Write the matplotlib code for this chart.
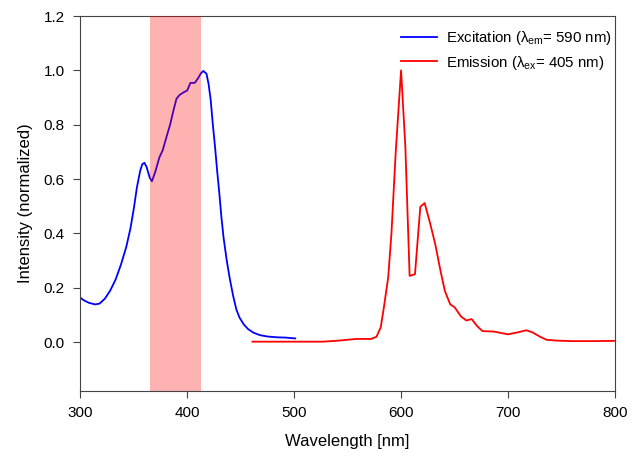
import matplotlib
matplotlib.use('Agg')
import matplotlib.pyplot as plt

plt.rcParams['font.family'] = ['Liberation Sans', 'DejaVu Sans']
plt.rcParams['mathtext.default'] = 'regular'

# excitation spectrum (lambda_em = 590 nm)
ex_wl  = [300, 303, 308, 314, 318, 323, 328, 333, 338, 343, 347, 350, 353, 356, 358,
          360, 362, 365, 367, 370, 374, 377, 381, 384, 387, 390, 393, 397, 400, 403,
          407, 410, 413, 415, 418, 420, 422, 424, 426, 428, 430, 432, 434, 437, 440,
          443, 446, 449, 453, 457, 462, 468, 475, 484, 492, 501]
ex_int = [0.164, 0.155, 0.145, 0.139, 0.142, 0.16, 0.19, 0.23, 0.285, 0.35, 0.42,
          0.49, 0.57, 0.63, 0.655, 0.66, 0.645, 0.605, 0.592, 0.625, 0.68, 0.705,
          0.76, 0.80, 0.85, 0.896, 0.91, 0.92, 0.926, 0.954, 0.954, 0.97, 0.99, 0.998,
          0.988, 0.95, 0.89, 0.80, 0.72, 0.631, 0.55, 0.46, 0.385, 0.30, 0.23, 0.17,
          0.12, 0.09, 0.065, 0.048, 0.035, 0.026, 0.021, 0.018, 0.017, 0.014]

# emission spectrum (lambda_ex = 405 nm)
em_wl  = [461, 480, 500, 527, 542, 558, 572, 577, 581, 584, 588, 591, 595, 600, 604,
          608, 613, 618, 622, 627, 632, 637, 641, 646, 650, 656, 661, 666, 671, 676,
          687, 700, 710, 717, 723, 730, 736, 745, 760, 780, 800]
em_int = [0.002, 0.002, 0.002, 0.002, 0.006, 0.012, 0.012, 0.02, 0.055, 0.13, 0.24,
          0.40, 0.70, 1.0, 0.72, 0.244, 0.25, 0.498, 0.512, 0.44, 0.36, 0.26, 0.188,
          0.139, 0.129, 0.095, 0.08, 0.085, 0.06, 0.041, 0.039, 0.029, 0.037, 0.044,
          0.036, 0.02, 0.009, 0.006, 0.004, 0.004, 0.005]

band = (365, 413)

fig = plt.figure(figsize=(6.32, 4.58), dpi=100)
ax = fig.add_axes([0.127, 0.146, 0.846, 0.819])

ax.plot(ex_wl, ex_int, color='#0000ff', lw=1.3,
        label=r'Excitation ($\lambda_{em}$= 590 nm)')
ax.plot(em_wl, em_int, color='#ff0000', lw=1.3,
        label=r'Emission ($\lambda_{ex}$= 405 nm)')
ax.axvspan(*band, color='red', alpha=0.3, lw=0, zorder=3)

ax.set_xlim(300, 800)
ax.set_ylim(-0.18, 1.2)
ax.set_xticks([300, 400, 500, 600, 700, 800])
ax.set_yticks([0.0, 0.2, 0.4, 0.6, 0.8, 1.0, 1.2])
ax.yaxis.set_major_formatter(plt.FormatStrFormatter('%.1f'))
ax.tick_params(direction='out', length=5, labelsize=11, pad=6, color='#444444')
for s in ax.spines.values():
    s.set_color('#444444')

ax.set_xlabel('Wavelength [nm]', fontsize=12, labelpad=10)
ax.set_ylabel('Intensity (normalized)', fontsize=12, labelpad=8)
ax.legend(loc='upper right', bbox_to_anchor=(1.017, 1.0), frameon=False,
          fontsize=10.8, handlelength=2.4, handletextpad=0.6,
          borderaxespad=0.45, labelspacing=0.45)

fig.savefig('out.png', dpi=100)
